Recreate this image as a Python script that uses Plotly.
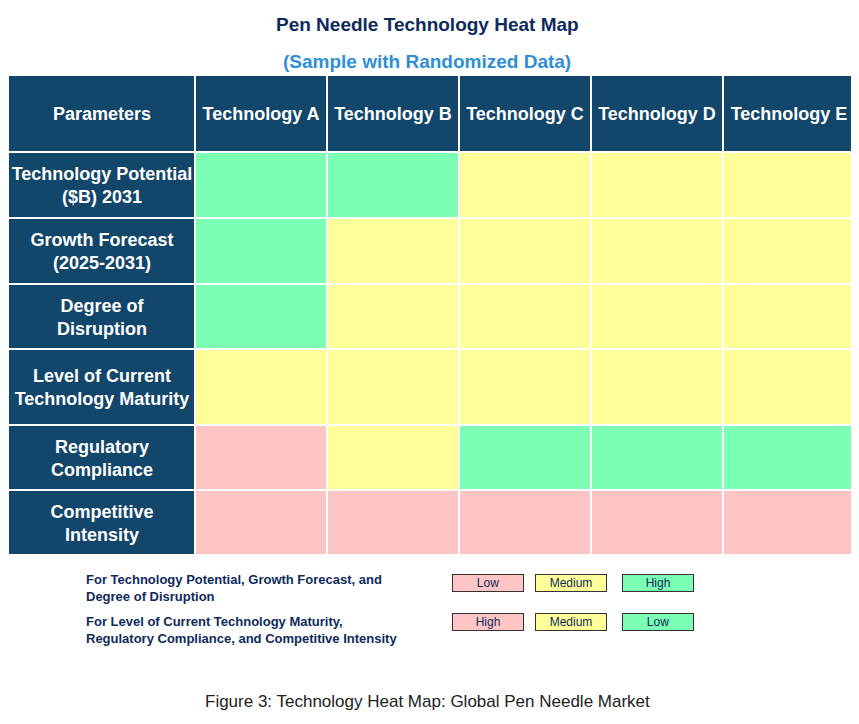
import plotly.graph_objects as go

columns = ["Parameters", "Technology A", "Technology B", "Technology C", "Technology D", "Technology E"]
parameters = ["Technology Potential<br>($B) 2031", "Growth Forecast<br>(2025-2031)", "Degree of<br>Disruption",
              "Level of Current<br>Technology Maturity", "Regulatory<br>Compliance", "Competitive<br>Intensity"]
# 1 = red, 2 = yellow, 3 = green
levels = [
    [3, 3, 2, 2, 2],
    [3, 2, 2, 2, 2],
    [3, 2, 2, 2, 2],
    [2, 2, 2, 2, 2],
    [1, 2, 3, 3, 3],
    [1, 1, 1, 1, 1],
]

# grid edges in pixels (column widths / row heights)
x_edges = [0, 187, 319, 451, 583, 715, 847]
y_edges = [0, 77, 143, 209, 274, 350, 415, 480]

z = [[0] * len(columns)] + [[0] + row for row in levels]
text = [["<b>%s</b>" % c for c in columns]] + [["<b>%s</b>" % p] + [""] * 5 for p in parameters]

dark, red, yellow, green = "#12466A", "#FFC4C4", "#FFFF99", "#7CFFB4"
cs = [[0, dark], [0.25, dark], [0.25, red], [0.5, red], [0.5, yellow], [0.75, yellow], [0.75, green], [1, green]]

fig = go.Figure(go.Heatmap(
    z=z, x=x_edges, y=y_edges, text=text, texttemplate="%{text}",
    textfont=dict(color="white", size=18, family="Arial"),
    colorscale=cs, zmin=-0.5, zmax=3.5, showscale=False, xgap=2, ygap=2, hoverinfo="skip"))

fig.update_xaxes(visible=False, range=[0, 847])
fig.update_yaxes(visible=False, range=[480, 0])

W, H, OFF = 851, 716, 8
anns = [
    dict(text="<b>Pen Needle Technology Heat Map</b>", x=429, y=24, font=dict(size=19, color="#0F2A5C")),
    dict(text="<b>(Sample with Randomized Data)</b>", x=429, y=61, font=dict(size=19, color="#2E8FD6")),
    dict(text="Figure 3: Technology Heat Map: Global Pen Needle Market", x=429, y=701, font=dict(size=17, color="#222")),
    dict(text="<b>For Technology Potential, Growth Forecast, and<br>Degree of Disruption</b>", x=84, y=588,
         xanchor="left", align="left", font=dict(size=13, color="#0F2A5C")),
    dict(text="<b>For Level of Current Technology Maturity,<br>Regulatory Compliance, and Competitive Intensity</b>",
         x=84, y=630, xanchor="left", align="left", font=dict(size=13, color="#0F2A5C")),
]
legend_rows = [(583, ["Low", "Medium", "High"]), (622, ["High", "Medium", "Low"])]
box_x = [490, 574, 661]
for yy, labels in legend_rows:
    for xx, lab, col in zip(box_x, labels, [red, yellow, green]):
        anns.append(dict(text=lab, x=xx, y=yy, width=68, height=14, bgcolor=col, bordercolor="#333",
                         borderwidth=1, font=dict(size=12, color="#0F2A5C")))
for a in anns:
    a.update(xref="paper", yref="paper", showarrow=False, yanchor="middle")
    a.setdefault("xanchor", "center")
    a["x"] = (a["x"] - OFF) / W
    a["y"] = (H - (a["y"] - OFF) - 169) / 480

fig.update_layout(width=W, height=H, margin=dict(l=0, r=4, t=67, b=169),
                  font=dict(family="Arial"),
                  plot_bgcolor="white", paper_bgcolor="white", annotations=anns)
fig.write_html("out.html")
